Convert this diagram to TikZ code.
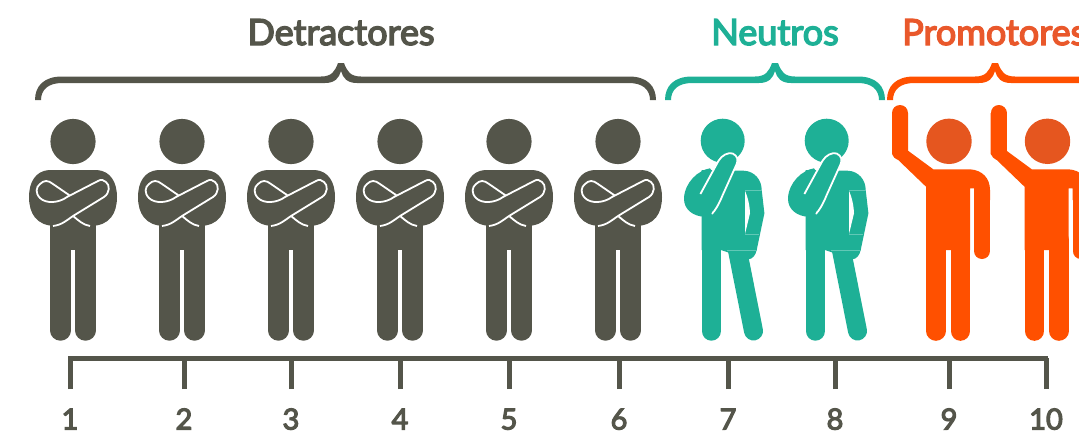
\documentclass[tikz,border=0pt]{standalone}
\usepackage{fontspec}
\setmainfont{Lato}
\newfontfamily\labelfont[RawFeature={embolden=4}]{Lato}
\definecolor{detgray}{HTML}{54554A}
\definecolor{neuteal}{HTML}{1EB096}
\definecolor{proorange}{HTML}{FF5000}
\definecolor{prohead}{HTML}{E5561F}
\definecolor{protext}{HTML}{E9582B}
\tikzset{
  grouplabel/.style={font=\fontsize{36}{36}\selectfont\labelfont,inner sep=0pt,anchor=base},
  numlabel/.style={font=\fontsize{29}{29}\selectfont\labelfont,text=detgray,inner sep=0pt,anchor=base},
  axisline/.style={draw=detgray,line width=5pt},
  crossedman/.pic={
    \fill[detgray] (0,141.5) circle [radius=22.6];
    \fill[detgray] (-22.7,215) rectangle (22.7,250);
    \draw[detgray,line width=20.4pt,line cap=round] (-12.5,245) -- (-12.5,330.5);
    \draw[detgray,line width=20.4pt,line cap=round] (12.5,245) -- (12.5,330.5);
    \fill[detgray] (-24,170) -- (24,170) .. controls (38,171) and (44,183) .. (44,197)
      .. controls (44,213) and (37,226) .. (17,226) -- (-17,226)
      .. controls (-37,226) and (-44,213) .. (-44,197)
      .. controls (-44,183) and (-38,171) .. (-24,170) -- cycle;
    \draw[white,line width=1.8pt,line join=round] (-20,226) .. controls (-11,225) and (-6,220) .. (0,216)
      -- (31,197) .. controls (37,193) and (37,185) .. (33,182)
      .. controls (31,180) and (28,179) .. (25,181) -- (-6,197)
      .. controls (-14,203) and (-27,204) .. (-33,198)
      .. controls (-38,193) and (-37,187) .. (-33,184)
      .. controls (-29,180) and (-25,180) .. (-20,184) -- (-4,195);
    \draw[white,line width=1.8pt] (0.7,216.5) .. controls (5,220) and (10,225) .. (17,226);
  },
  thinkman/.pic={
    \fill[neuteal] (0,140.7) circle [radius=22];
    \draw[neuteal,line width=19.4pt,line cap=round] (-11.4,240) -- (-11.4,331);
    \draw[neuteal,line width=19pt,line cap=round] (14.7,250) -- (30.8,331);
    \fill[neuteal] (-21,170) -- (20.7,170.7) .. controls (32,171) and (39,180) .. (39,190)
      -- (41.7,213.3) -- (34,250) .. controls (33,255) and (30,259) .. (25.7,259.3)
      -- (-1.7,250) -- (-21,250) -- cycle;
    \fill[white] (22.3,190.7) .. controls (25,197) and (27,205) .. (27.3,213.3) -- (22.3,234) -- cycle;
    \draw[white!30!neuteal,line width=0.4pt] (22.3,190) -- (39,190) (22.3,234) -- (36,234) (4,250) -- (34,250);
    \fill[neuteal] (-12.7,168.3) .. controls (-24,170) and (-38,182) .. (-38.7,198.3)
      .. controls (-39,210) and (-29,216) .. (-19.3,216.7) -- (-8,210) -- (-8,175) -- cycle;
    \filldraw[fill=neuteal,draw=white,line width=1.8pt,line join=round]
      (-22.3,194) -- (-4.3,161) .. controls (-1,155) and (6,152) .. (10,153.5)
      .. controls (15,156) and (15.5,160) .. (14,164) -- (0,195)
      .. controls (-4,205) and (-8,211) .. (-11,214);
    \fill[neuteal] (-23,200) -- (-11,214) -- (-11,200) -- cycle;
  },
  cheerman/.pic={
    \fill[prohead] (1,141.3) circle [radius=22.7];
    \draw[proorange,line width=19.6pt,line cap=round] (-12.2,240) -- (-12.2,331);
    \draw[proorange,line width=19.6pt,line cap=round] (12.4,240) -- (12.4,331);
    \draw[proorange,line width=16pt,line cap=round] (-48,113) -- (-48,152);
    \draw[proorange,line width=16pt,line cap=round] (34,195) -- (34,251);
    \fill[proorange] (-56,113) -- (-40,113) -- (-40,150.7) -- (-14.7,169.3) -- (22,169.3)
      .. controls (34,170) and (42,178) .. (42,190) -- (42,200) -- (26,200) -- (26,188.3)
      -- (22,188.3) -- (22,250) -- (-22,250) -- (-22,186.7) -- (-56,154) -- cycle;
  }
}
\newcommand\groupbrace[4]{
  \fill[#1] (#2-3,100) .. controls (#2-3,86) and (#2+6,76.5) .. (#2+24,76.5)
    -- (#3-20,76.5) .. controls (#3-9,76.5) and (#3-6,71) .. (#3-3,63) -- (#3+3,63)
    .. controls (#3+6,71) and (#3+9,76.5) .. (#3+20,76.5)
    -- (#4-24,76.5) .. controls (#4-6,76.5) and (#4+3,86) .. (#4+3,100) -- (#4-3,100)
    .. controls (#4-3,90) and (#4-10,83) .. (#4-24,83)
    -- (#3+16,83) .. controls (#3+6,83) and (#3+2,78) .. (#3,71)
    .. controls (#3-2,78) and (#3-6,83) .. (#3-16,83)
    -- (#2+24,83) .. controls (#2+10,83) and (#2+3,90) .. (#2+3,100) -- cycle;
}
\begin{document}
\begin{tikzpicture}[x=1pt,y=-1pt]
    \useasboundingbox (0,0) rectangle (1079,431);
    % group labels
    \node [grouplabel,text=detgray] (detractores) at (341,45) {Detractores};
    \node [grouplabel,text=neuteal] (neutros) at (775,45) {Neutros};
    \node [grouplabel,text=protext,anchor=base west] (promotores) at (902,45) {Promotores};
    \groupbrace{detgray}{38}{341}{653}
    \groupbrace{neuteal}{668}{775}{882}
    \groupbrace{proorange}{890}{995}{1100}
    % people
    \foreach \x in {73,182,291,400,509,618}
        \pic at (\x,0) {crossedman};
    \foreach \x in {722.7,826.7}
        \pic at (\x,0) {thinkman};
    \foreach \x in {948,1046.5}
        \pic at (\x,0) {cheerman};
    % scale
    \coordinate (axisL) at (68,358);
    \coordinate (axisR) at (1048,358);
    \draw [axisline] (axisL) -- (axisR);
    \foreach \x/\n in {70/1,184/2,291/3,400/4,509/5,619/6,728/7,835/8,949/9,1046/10} {
        \node [numlabel] (num\n) at (\x,429.5) {\n};
        \coordinate (tick\n) at (\x,389);
        \draw [axisline] (tick\n) -- (tick\n |- axisL);
    }
\end{tikzpicture}
\end{document}
